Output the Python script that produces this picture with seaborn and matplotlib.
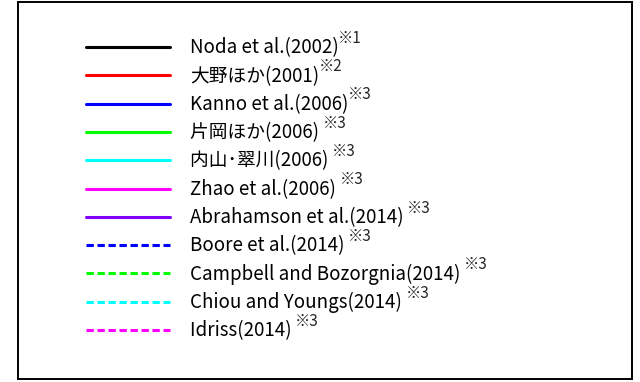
import pandas as pd
import matplotlib.pyplot as plt
import seaborn as sns

# Legend entries (ground motion prediction equations)
labels = ["Noda et al.(2002)", "大野ほか(2001)", "Kanno et al.(2006)", "片岡ほか(2006) ",
          "内山･翠川(2006) ", "Zhao et al.(2006) ", "Abrahamson et al.(2014) ",
          "Boore et al.(2014) ", "Campbell and Bozorgnia(2014) ",
          "Chiou and Youngs(2014) ", "Idriss(2014) "]
notes = ["※1", "※2", "※3", "※3", "※3", "※3", "※3", "※3", "※3", "※3", "※3"]
colors = ["#000000", "#ff0000", "#0000ff", "#00ff00", "#00ffff", "#ff00ff",
          "#8000ff", "#0000ff", "#00ff00", "#00ffff", "#ff00ff"]
styles = ["solid"] * 7 + ["dashed"] * 4

# layout (pixels inside the frame)
LINE_X0, LINE_X1, TEXT_X = 68, 152, 172
ROW0, PITCH = 45, 28.3

rows = []
for i, lab in enumerate(labels):
    for x in (LINE_X0, LINE_X1):
        rows.append({"label": lab, "x": x, "row": i, "style": styles[i]})
df = pd.DataFrame(rows)

sns.set_theme(style="white")
plt.rcParams['font.family'] = ['Noto Sans CJK JP', 'DejaVu Sans']

fig = plt.figure(figsize=(6.4, 3.82), dpi=100)
ax = fig.add_axes([18 / 640, 3 / 382, 614 / 640, 377 / 382])

sns.lineplot(data=df, x="x", y="row", hue="label", style="style",
             palette=dict(zip(labels, colors)), hue_order=labels,
             dashes={"solid": "", "dashed": (2.4, 1.2)},
             linewidth=2.2, legend=False, ax=ax)

ax.set_xlim(0, 614)
ax.set_ylim((377 - ROW0) / PITCH, -ROW0 / PITCH)

for i, lab in enumerate(labels):
    t = ax.text(TEXT_X, i + 0.03, lab, fontsize=13.5, va="center", ha="left", color="black")
    ax.annotate(notes[i], xy=(1, 0.55), xycoords=t, xytext=(-0.5, 0),
                textcoords="offset points", fontsize=11, va="bottom", ha="left")

ax.set_xticks([])
ax.set_yticks([])
ax.set_xlabel("")
ax.set_ylabel("")
for s in ax.spines.values():
    s.set_color("black")
    s.set_linewidth(1.4)

fig.savefig("out.png", dpi=100)
